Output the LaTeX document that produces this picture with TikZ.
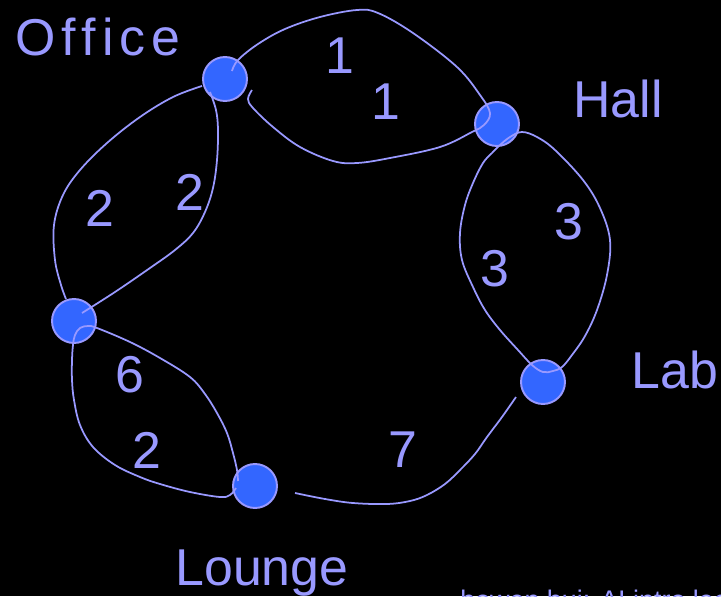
\documentclass[tikz,border=0pt]{standalone}
\usepackage{fontspec}
\setmainfont{Liberation Sans}
\usepackage{tikz}
\usetikzlibrary{calc}
\usepackage{xcolor}
\definecolor{cLav}{RGB}{153,153,255}
\definecolor{cRoom}{RGB}{51,102,255}
\tikzset{
  roomnode/.style={circle, fill=cRoom, draw=cLav, line width=1.1pt,
                   minimum size=0.88cm, inner sep=0pt},
  roomlabel/.style={text=cLav, font=\fontsize{29.5}{34}\selectfont,
                    anchor=base, inner sep=0pt},
  weightlabel/.style={roomlabel},
  route/.style={draw=cLav, line width=1pt, smooth, tension=0.6},
  credit/.style={text=cLav, font=\fontsize{15.3}{18}\selectfont,
                 anchor=base west, inner sep=0pt}
}

\begin{document}
\begin{tikzpicture}[x=0.02cm, y=-0.02cm]
  \useasboundingbox (0,0) rectangle (721,596);
  \fill[black] (0,0) rectangle (721,596);
  \clip (0,0) rectangle (721,596);

  % Rooms
  \node[roomnode] (office) at (225,79) {};
  \node[roomnode] (hall)   at (497,124) {};
  \node[roomnode] (lab)    at (543,382) {};
  \node[roomnode] (lounge) at (255,486) {};
  \node[roomnode] (blank)  at (74,321) {};

  % Room names
  \node[roomlabel] (lblOffice) at (98,55)
      {\addfontfeature{LetterSpace=12}Office};
  \node[roomlabel] (lblHall)   at (618,117) {Hall};
  \node[roomlabel] (lblLab)    at (675,388) {Lab};
  \node[roomlabel] (lblLounge) at (262,585) {Lounge};

  % Ends of the hand drawn routes
  \coordinate (ohA) at ([shift={(7,-8)}]office.center);
  \coordinate (ohB) at ([shift={(27,11)}]office.center);
  \coordinate (hallTurn) at ([shift={(-7,-11)}]hall.center);
  \coordinate (ocA) at ([shift={(-23,7)}]office.center);
  \coordinate (ocB) at ([shift={(-8,-22)}]blank.center);
  \coordinate (odA) at ([shift={(-15,13)}]office.center);
  \coordinate (odB) at ([shift={(8,-8)}]blank.center);
  \coordinate (lgA) at ([shift={(-19,2)}]lounge.center);
  \coordinate (lgB) at ([shift={(-17,-5)}]lounge.center);
  \coordinate (blankTurn) at ([shift={(6,7)}]blank.center);
  \coordinate (hlA) at ([shift={(13,13)}]hall.center);
  \coordinate (labTurn) at ([shift={(0,-10)}]lab.center);
  \coordinate (glA) at ([shift={(40,7)}]lounge.center);
  \coordinate (glB) at ([shift={(-27,15)}]lab.center);

  % Office -- Hall
  \draw[route] plot coordinates {(ohA) (238,60) (258,44) (285,29) (320,17)
      (357,10) (378,13) (413,33) (457,67) (480,95) (hallTurn) (484,125)
      (472,132) (440,147) (390,158) (357,163) (333,161) (300,147)
      (273,127) (253,108) (248,99) (ohB)};

  % Office -- blank
  \draw[route] plot coordinates {(ocA) (173,97) (140,117) (107,143)
      (80,170) (63,195) (54,225) (55,260) (61,285) (ocB)};
  \draw[route] plot coordinates {(odA) (216,110) (218,130) (217,160)
      (213,188) (205,212) (193,233) (175,250) (150,268) (115,292) (odB)};

  % blank -- Lounge
  \draw[route] plot coordinates {(lgA) (230,495) (220,497) (190,492)
      (160,484) (140,477) (115,465) (93,447) (80,425) (74,400) (72,380)
      (72,360) (73,345) (75,335) (blankTurn) (88,326) (97,328) (130,342)
      (160,358) (190,377) (205,394) (217,413) (227,433) (233,453)
      (237,470) (lgB)};

  % Hall -- Lab
  \draw[route] plot[smooth cycle] coordinates {(hlA) (522,132) (537,137)
      (555,150) (583,180) (600,208) (610,240) (607,275) (597,310)
      (585,336) (572,355) (562,367) (553,371) (labTurn) (532,365)
      (518,350) (500,330) (485,310) (473,287) (462,260) (460,233)
      (465,205) (473,183) (483,163) (492,153) (500,145)};

  % Lounge -- Lab
  \draw[route] plot coordinates {(glA) (325,499) (353,503) (387,504)
      (410,501) (427,495) (445,484) (460,470) (475,454) (487,437)
      (502,417) (glB)};

  % Weights
  \node[weightlabel] (w1a) at (340,73)  {1};
  \node[weightlabel] (w1b) at (386,119) {1};
  \node[weightlabel] (w2a) at (100,226) {2};
  \node[weightlabel] (w2b) at (190,210) {2};
  \node[weightlabel] (w3a) at (569,239) {3};
  \node[weightlabel] (w3b) at (495,286) {3};
  \node[weightlabel] (w6)  at (130,392) {6};
  \node[weightlabel] (w2c) at (147,468) {2};
  \node[weightlabel] (w7)  at (403,467) {7};

  % Footer, cut by the page edge
  \node[credit] (footer) at (460,609) {bowen hui: AI intro lec};
\end{tikzpicture}
\end{document}
